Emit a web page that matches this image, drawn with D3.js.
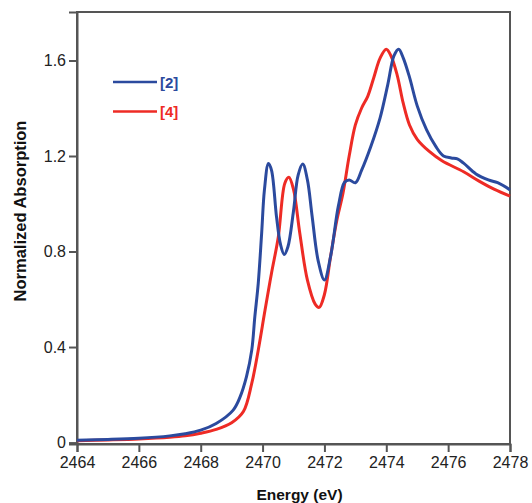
<!DOCTYPE html>
<html>
<head>
<meta charset="utf-8">
<script src="https://cdn.jsdelivr.net/npm/d3@7"></script>
<style>
  body { margin: 0; background: #fff; }
  text { font-family: Arial, "Liberation Sans", sans-serif; }
</style>
</head>
<body>
<div id="chart"></div>
<script>
// spectra: energy (eV) and normalized absorption
var energy2 = [2464.0, 2465.0, 2466.0, 2467.0, 2467.5, 2468.0, 2468.5, 2469.05, 2469.27, 2469.48,
  2469.65, 2469.75, 2469.86, 2469.97, 2470.06, 2470.19, 2470.29, 2470.45, 2470.58, 2470.7,
  2470.82, 2471.0, 2471.15, 2471.3, 2471.45, 2471.6, 2471.8, 2472.0, 2472.2,
  2472.45, 2472.65, 2472.8, 2473.0, 2473.2, 2473.5, 2473.8, 2474.05, 2474.25, 2474.4,
  2474.55, 2474.75, 2475.0, 2475.3, 2475.6, 2475.85, 2476.1, 2476.3, 2476.5, 2476.9,
  2477.3, 2477.6, 2478.0];
var absorb2 = [0.010, 0.013, 0.018, 0.028, 0.037, 0.052, 0.080, 0.136, 0.19, 0.276,
  0.387, 0.527, 0.667, 0.876, 1.058, 1.169, 1.14, 0.946, 0.83, 0.788,
  0.82, 0.97, 1.12, 1.166, 1.10, 0.95, 0.76, 0.681, 0.78,
  0.99, 1.09, 1.10, 1.088, 1.14, 1.24, 1.36, 1.50, 1.62, 1.647,
  1.61, 1.53, 1.41, 1.31, 1.24, 1.20, 1.192, 1.188, 1.17, 1.125,
  1.10, 1.088, 1.058];

var energy4 = [2464.0, 2465.0, 2466.0, 2467.0, 2467.5, 2468.0, 2468.5, 2469.0, 2469.38, 2469.65,
  2469.86, 2470.08, 2470.29, 2470.51, 2470.72, 2470.85, 2471.0, 2471.2,
  2471.45, 2471.7, 2471.83, 2472.0, 2472.2, 2472.4, 2472.6, 2472.8, 2473.0, 2473.2,
  2473.4, 2473.6, 2473.8, 2474.0, 2474.15, 2474.35, 2474.55, 2474.75, 2475.0, 2475.4,
  2475.8, 2476.5, 2477.0, 2477.5, 2478.0];
var absorb4 = [0.008, 0.011, 0.015, 0.022, 0.028, 0.039, 0.055, 0.083, 0.13, 0.248,
  0.387, 0.555, 0.71, 0.862, 1.086, 1.111, 1.06, 0.88,
  0.68, 0.58, 0.566, 0.62, 0.78, 0.93, 1.044, 1.20, 1.33, 1.40,
  1.45, 1.53, 1.61, 1.647, 1.62, 1.54, 1.42, 1.33, 1.27, 1.218,
  1.18, 1.134, 1.095, 1.06, 1.032];

var xTicks = [2464, 2466, 2468, 2470, 2472, 2474, 2476, 2478];
var yTicks = [0, 0.4, 0.8, 1.2, 1.6];
var seriesNames = ["[2]", "[4]"];
var seriesColors = ["#2b4a9e", "#ee2b25"];

var width = 532, height = 503;
var margin = {top: 12, right: 22, bottom: 59, left: 77};

var svg = d3.select("#chart").append("svg")
  .attr("width", width)
  .attr("height", height);

var x = d3.scaleLinear().domain([2464, 2478]).range([margin.left, width - margin.right]);
var y = d3.scaleLinear().domain([-0.006, 1.803]).range([height - margin.bottom, margin.top]);

var frameColor = "#555";

// frame
svg.append("rect")
  .attr("x", margin.left).attr("y", margin.top)
  .attr("width", width - margin.left - margin.right)
  .attr("height", height - margin.top - margin.bottom)
  .attr("fill", "none").attr("stroke", frameColor).attr("stroke-width", 2);

var xAxis = svg.append("g")
  .attr("transform", "translate(0," + (height - margin.bottom) + ")")
  .call(d3.axisBottom(x).tickValues(xTicks).tickFormat(d3.format("d")).tickSizeOuter(0).tickSize(8).tickPadding(5));
var yAxis = svg.append("g")
  .attr("transform", "translate(" + margin.left + ",0)")
  .call(d3.axisLeft(y).tickValues(yTicks).tickFormat(function(d) { return d === 0 ? "0" : d3.format(".1f")(d); })
    .tickSizeOuter(0).tickSize(8).tickPadding(3));

[xAxis, yAxis].forEach(function(a) {
  a.select(".domain").attr("stroke", frameColor).attr("stroke-width", 2);
  a.selectAll(".tick line").attr("stroke", frameColor).attr("stroke-width", 2);
  a.selectAll(".tick text").attr("fill", "#222").style("font-size", "16px");
});

// curves
var line = d3.line()
  .x(function(d) { return x(d[0]); })
  .y(function(d) { return y(d[1]); })
  .curve(d3.curveCatmullRom.alpha(0.5));

var series = [d3.zip(energy2, absorb2), d3.zip(energy4, absorb4)];
// red under blue
[1, 0].forEach(function(i) {
  svg.append("path")
    .datum(series[i])
    .attr("fill", "none")
    .attr("stroke", seriesColors[i])
    .attr("stroke-width", 3)
    .attr("stroke-linejoin", "round")
    .attr("d", line);
});

// legend
seriesNames.forEach(function(name, i) {
  var ly = 82 + i * 29.5;
  svg.append("line")
    .attr("x1", 113).attr("x2", 157)
    .attr("y1", ly).attr("y2", ly)
    .attr("stroke", seriesColors[i]).attr("stroke-width", 2.5);
  svg.append("text")
    .attr("x", 160).attr("y", ly + 5.5)
    .attr("fill", seriesColors[i])
    .style("font-size", "15px").style("font-weight", "bold")
    .text(name);
});

// axis titles
svg.append("text")
  .attr("x", x(2471) + 6).attr("y", 500)
  .attr("text-anchor", "middle")
  .style("font-size", "15.5px").style("font-weight", "bold").attr("fill", "#111")
  .text("Energy (eV)");

svg.append("text")
  .attr("transform", "translate(26," + 211 + ") rotate(-90)")
  .attr("text-anchor", "middle")
  .style("font-size", "16.5px").style("font-weight", "bold").attr("fill", "#111")
  .text("Normalized Absorption");
</script>
</body>
</html>
